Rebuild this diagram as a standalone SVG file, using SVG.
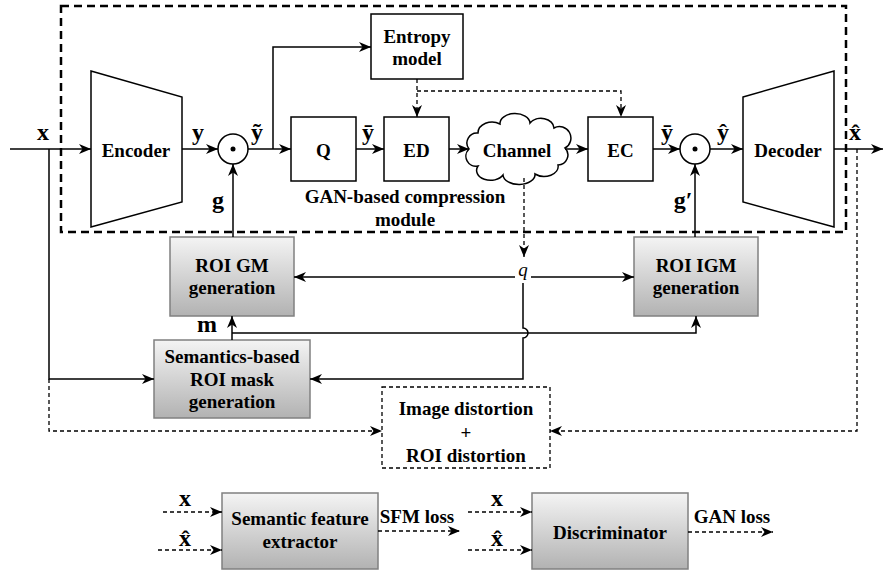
<svg xmlns="http://www.w3.org/2000/svg" width="883" height="570" viewBox="0 0 883 570">
<style>
.ln{fill:none;stroke:#000;stroke-width:1.5}
.dl{fill:none;stroke:#000;stroke-width:1.3;stroke-dasharray:4,3}
.bx{fill:#fff;stroke:#000;stroke-width:1.5}
.gb{fill:url(#gr);stroke:#808080;stroke-width:1.5}
text{font-family:'Liberation Serif','DejaVu Serif','Noto Serif',serif;fill:#000;text-anchor:middle}
.t{font-weight:bold;font-size:19px}
.m{font-weight:bold;font-size:24px}
.q{font-style:italic;font-size:19px}
</style>
<defs>
<linearGradient id="gr" x1="0" y1="0" x2="0" y2="1">
<stop offset="0" stop-color="#f4f4f4"/>
<stop offset="1" stop-color="#b2b2b2"/>
</linearGradient>
<marker id="a" markerUnits="userSpaceOnUse" markerWidth="12" markerHeight="10" viewBox="0 0 12 10" refX="12" refY="5" orient="auto-start-reverse">
<path d="M0,0 L12,5 L0,10 L3.5,5 z" fill="#000"/>
</marker>
</defs>
<rect x="0" y="0" width="883" height="570" fill="#fff"/>

<rect x="61" y="6" width="785" height="226" fill="none" stroke="#000" stroke-width="2.5" stroke-dasharray="8,5"/>

<g id="encoder">
<polygon class="bx" points="91,71 182,97 182,202 91,227"/>
<text class="t" x="136" y="157">Encoder</text>
</g>
<g id="mul1">
<circle class="bx" cx="233" cy="149" r="15"/>
<circle cx="233" cy="149" r="2.5" fill="#000"/>
</g>
<g id="entropy">
<rect class="bx" x="371" y="14" width="92" height="65"/>
<text class="t" x="417" y="43">Entropy</text>
<text class="t" x="417" y="65">model</text>
</g>
<g id="q">
<rect class="bx" x="291" y="117" width="65" height="64"/>
<text class="t" x="323.5" y="157">Q</text>
</g>
<g id="ed">
<rect class="bx" x="384" y="117" width="65" height="64"/>
<text class="t" x="416.5" y="157">ED</text>
</g>
<g id="channel">
<path class="bx" d="M469,149 A10,10 0 0 1 478,133 A14,11 0 0 1 500,124 A15,10 0 0 1 530,123 A13,10 0 0 1 554,128 A11,11 0 0 1 565,148 A10,10 0 0 1 558,165 A14,10 0 0 1 535,174 A16,10 0 0 1 503,175 A14,10 0 0 1 478,166 A10,10 0 0 1 469,149 Z"/>
<text class="t" x="517" y="157">Channel</text>
</g>
<g id="ec">
<rect class="bx" x="588" y="117" width="65" height="64"/>
<text class="t" x="620.5" y="157">EC</text>
</g>
<g id="mul2">
<circle class="bx" cx="695" cy="149" r="15"/>
<circle cx="695" cy="149" r="2.5" fill="#000"/>
</g>
<g id="decoder">
<polygon class="bx" points="743,97 834,71 834,227 743,202"/>
<text class="t" x="788" y="157">Decoder</text>
</g>
<g id="module-label">
<text class="t" x="405" y="203">GAN-based compression</text>
<text class="t" x="405" y="226">module</text>
</g>
<g id="roi-gm">
<rect class="gb" x="170" y="237" width="124" height="79"/>
<text class="t" x="232" y="272">ROI GM</text>
<text class="t" x="232" y="294">generation</text>
</g>
<g id="roi-igm">
<rect class="gb" x="634" y="237" width="124" height="79"/>
<text class="t" x="696" y="272">ROI IGM</text>
<text class="t" x="696" y="294">generation</text>
</g>
<g id="mask">
<rect class="gb" x="154" y="340" width="156" height="78"/>
<text class="t" x="232" y="363">Semantics-based</text>
<text class="t" x="232" y="386">ROI mask</text>
<text class="t" x="232" y="408">generation</text>
</g>
<g id="distortion">
<rect x="382" y="387" width="168" height="81" fill="#fff" stroke="#000" stroke-width="1.3" stroke-dasharray="4,3"/>
<text class="t" x="466" y="415">Image distortion</text>
<text class="t" x="466" y="439">+</text>
<text class="t" x="466" y="462">ROI distortion</text>
</g>
<g id="sfe">
<rect class="gb" x="222" y="493" width="156" height="76"/>
<text class="t" x="300" y="525">Semantic feature</text>
<text class="t" x="300" y="548">extractor</text>
</g>
<g id="disc">
<rect class="gb" x="532" y="493" width="156" height="76"/>
<text class="t" x="610" y="539">Discriminator</text>
</g>

<g id="connectors">
<path class="ln" d="M10,149 H91" marker-end="url(#a)"/>
<path class="ln" d="M49,149 V379 H154" marker-end="url(#a)"/>
<path class="dl" d="M49,379 V431 H382" marker-end="url(#a)"/>
<path class="ln" d="M182,149 H218" marker-end="url(#a)"/>
<path class="ln" d="M248,149 H291" marker-end="url(#a)"/>
<path class="ln" d="M273,149 V47 H371" marker-end="url(#a)"/>
<path class="ln" d="M356,149 H384" marker-end="url(#a)"/>
<path class="ln" d="M449,149 H469" marker-end="url(#a)"/>
<path class="ln" d="M565,149 H588" marker-end="url(#a)"/>
<path class="ln" d="M653,149 H680" marker-end="url(#a)"/>
<path class="ln" d="M710,149 H743" marker-end="url(#a)"/>
<path class="ln" d="M834,149 H883" marker-end="url(#a)"/>
<path class="dl" d="M417,79 V117" marker-end="url(#a)"/>
<path class="dl" d="M417,91 H621 V117" marker-end="url(#a)"/>
<path class="dl" d="M524,178 V257" marker-end="url(#a)"/>
<path class="dl" d="M857,149 V431 H550" marker-end="url(#a)"/>
<path class="ln" d="M233,237 V164" marker-end="url(#a)"/>
<path class="ln" d="M695,237 V164" marker-end="url(#a)"/>
<path class="ln" d="M294,277 H634" marker-start="url(#a)" marker-end="url(#a)"/>
<rect x="515" y="264" width="16" height="16" fill="#fff"/>
<path class="ln" d="M523,283 V328 A5,5 0 0 1 523,338 V379 H310" marker-end="url(#a)"/>
<path class="ln" d="M232,340 V316" marker-end="url(#a)"/>
<path class="ln" d="M232,333 H696 V316" marker-end="url(#a)"/>
<path class="dl" d="M163,512 H222" marker-end="url(#a)"/>
<path class="dl" d="M158,550 H222" marker-end="url(#a)"/>
<path class="dl" d="M378,531 H460" marker-end="url(#a)"/>
<path class="dl" d="M468,512 H532" marker-end="url(#a)"/>
<path class="dl" d="M468,550 H532" marker-end="url(#a)"/>
<path class="dl" d="M688,532 H773" marker-end="url(#a)"/>
</g>

<g id="labels">
<text class="m" x="43" y="140">x</text>
<text class="m" x="198" y="140">y</text>
<text class="m" x="257" y="140">ỹ</text>
<text class="m" x="368" y="140">ȳ</text>
<text class="m" x="667" y="140">ȳ</text>
<text class="m" x="723" y="140">ŷ</text>
<text class="m" x="855" y="140">x̂</text>
<text class="m" x="218" y="208">g</text>
<text class="m" x="683" y="208">g′</text>
<text class="m" x="207" y="332">m</text>
<text class="q" x="523" y="276">q</text>
<text class="m" x="185" y="506">x</text>
<text class="m" x="185" y="546">x̂</text>
<text class="t" x="417" y="523">SFM loss</text>
<text class="m" x="497" y="506">x</text>
<text class="m" x="497" y="546">x̂</text>
<text class="t" x="732" y="523">GAN loss</text>
</g>
</svg>
